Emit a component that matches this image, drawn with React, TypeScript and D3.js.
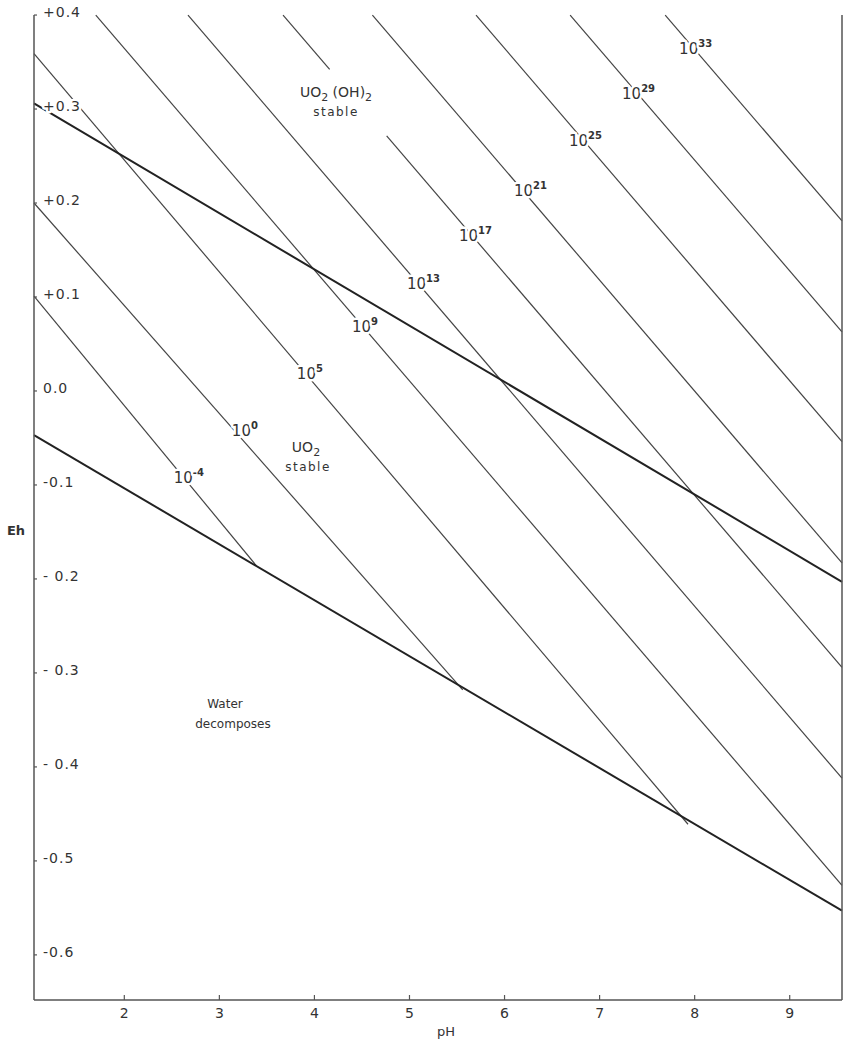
import * as d3 from "d3";

// axis ticks
const phTicks = [2, 3, 4, 5, 6, 7, 8, 9];
const ehTicks = [0.4, 0.3, 0.2, 0.1, 0, -0.1, -0.2, -0.3, -0.4, -0.5, -0.6];
const ehTickLabels = ["+0.4", "+0.3", "+0.2", "+0.1", "0.0", "-0.1", "- 0.2", "- 0.3", "- 0.4", "-0.5", "-0.6"];

// stability boundaries: UO2(OH)2 / UO2 and water decomposition (pH, Eh at both ends)
const boundaryPH = [[1.05, 9.55], [1.05, 9.55]];
const boundaryEh = [[0.306, -0.203], [-0.047, -0.553]];

// lines of equal concentration
const concExponents = ["-4", "0", "5", "9", "13", "17", "21", "25", "29", "33"];
const concStartPH = [1.05, 1.05, 1.05, 1.7, 2.67, 3.67, 4.61, 5.7, 6.69, 7.69];
const concStartEh = [0.101, 0.2, 0.359, 0.4, 0.4, 0.4, 0.4, 0.4, 0.4, 0.4];
const concEndPH = [3.39, 5.56, 7.93, 9.55, 9.55, 9.55, 9.55, 9.55, 9.55, 9.55];
const concEndEh = [-0.186, -0.318, -0.461, -0.526, -0.412, -0.294, -0.183, -0.054, 0.063, 0.181];
const concLabelPH = [2.615, 3.226, 3.91, 4.489, 5.068, 5.615, 6.194, 6.773, 7.331, 7.931];
const concLabelEh = [-0.092, -0.041, 0.019, 0.069, 0.115, 0.166, 0.214, 0.267, 0.317, 0.365];
// the 10^17 line is broken where the UO2(OH)2 label sits
const concGapPH: (number[] | null)[] = [null, null, null, null, null, [4.16, 4.76], null, null, null, null];

const FONT = "'DejaVu Sans', sans-serif";

export default function App() {
  const width = 843;
  const height = 1041;
  const x = d3.scaleLinear().domain([1.05, 9.55]).range([34, 842]);
  const y = d3.scaleLinear().domain([-0.648, 0.416]).range([1000, 0]);
  const line = d3
    .line<[number, number]>()
    .x((d) => x(d[0]))
    .y((d) => y(d[1]));

  // split a straight line into segments around an optional gap
  const segments = (p0: [number, number], p1: [number, number], gap: number[] | null) => {
    if (!gap) return [[p0, p1]];
    const at = (ph: number): [number, number] => [ph, p0[1] + ((ph - p0[0]) / (p1[0] - p0[0])) * (p1[1] - p0[1])];
    return [
      [p0, at(gap[0])],
      [at(gap[1]), p1],
    ];
  };

  const halo = { stroke: "white", strokeWidth: 5, paintOrder: "stroke" as const, strokeLinejoin: "round" as const };

  return (
    <svg width={width} height={height} style={{ position: "absolute", left: 0, top: 0, background: "white" }} fontFamily={FONT}>
      {/* concentration lines */}
      {concExponents.map((e, i) =>
        segments([concStartPH[i], concStartEh[i]], [concEndPH[i], concEndEh[i]], concGapPH[i]).map((s, j) => (
          <path key={e + j} d={line(s as [number, number][]) || ""} fill="none" stroke="#444" strokeWidth={1.2} />
        ))
      )}

      {/* boundaries */}
      {boundaryPH.map((p, i) => (
        <path
          key={"b" + i}
          d={line([[p[0], boundaryEh[i][0]], [p[1], boundaryEh[i][1]]]) || ""}
          fill="none"
          stroke="#222"
          strokeWidth={2}
        />
      ))}

      {/* axes */}
      <line x1={x(1.05)} x2={x(1.05)} y1={y(0.4)} y2={y(-0.648)} stroke="#555" strokeWidth={1.5} />
      <line x1={x(9.55)} x2={x(9.55)} y1={y(0.4)} y2={y(-0.648)} stroke="#555" strokeWidth={1.5} />
      <line x1={x(1.05)} x2={x(9.55)} y1={y(-0.648)} y2={y(-0.648)} stroke="#555" strokeWidth={1.5} />

      {ehTicks.map((t, i) => (
        <g key={"ey" + i}>
          <line x1={x(1.05)} x2={x(1.05) + 3} y1={y(t)} y2={y(t)} stroke="#555" strokeWidth={1.2} />
          <text x={x(1.05) + 9} y={y(t) + 2} fontSize={14} fill="#333" letterSpacing={1} {...halo}>
            {ehTickLabels[i]}
          </text>
        </g>
      ))}
      {phTicks.map((t) => (
        <g key={"px" + t}>
          <line x1={x(t)} x2={x(t)} y1={y(-0.648)} y2={y(-0.648) - 5} stroke="#555" strokeWidth={1.2} />
          <text x={x(t)} y={1018} fontSize={14} fill="#333" textAnchor="middle">
            {t}
          </text>
        </g>
      ))}
      <text x={446} y={1036} fontSize={13} fill="#333" textAnchor="middle">
        pH
      </text>
      <text x={16} y={535} fontSize={13} fill="#333" textAnchor="middle" fontWeight="bold">
        Eh
      </text>

      {/* concentration labels */}
      {concExponents.map((e, i) => (
        <text
          key={"l" + e}
          x={x(concLabelPH[i]) - 9}
          y={y(concLabelEh[i]) + 6}
          fontSize={15}
          fill="#333"
          {...halo}
        >
          10
          <tspan dy={-7} fontSize={10} fontWeight="bold">
            {e}
          </tspan>
        </text>
      ))}

      {/* field labels */}
      <g fill="#333" fontSize={14} textAnchor="middle">
        <text x={336} y={97}>
          UO<tspan dy={4} fontSize={11}>2</tspan>
          <tspan dy={-4}> (OH)</tspan>
          <tspan dy={4} fontSize={11}>2</tspan>
        </text>
        <text x={336} y={116} fontSize={12} letterSpacing={1.5}>stable</text>
        <text x={306} y={452}>
          UO<tspan dy={4} fontSize={11}>2</tspan>
        </text>
        <text x={308} y={471} fontSize={12} letterSpacing={1.5}>stable</text>
        <text x={225} y={708} fontSize={12}>Water</text>
        <text x={233} y={728} fontSize={12}>decomposes</text>
      </g>
    </svg>
  );
}
